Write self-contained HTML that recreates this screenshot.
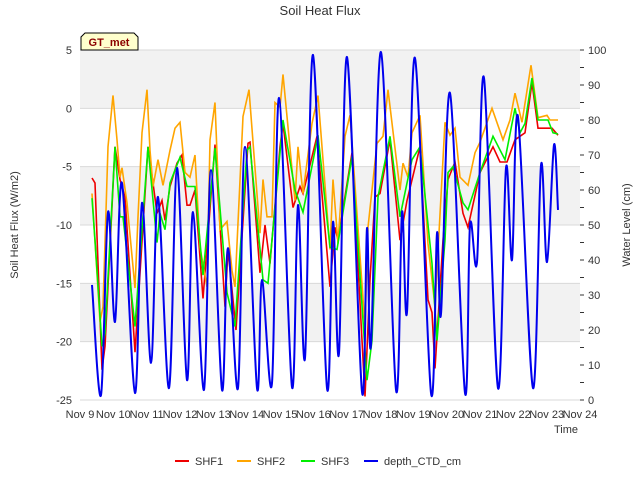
<!DOCTYPE html>
<html><head><meta charset="utf-8"><style>
body{margin:0;background:#fff;}
svg text{font-family:"Liberation Sans",sans-serif;}
</style></head><body>
<svg id="chart" width="640" height="480" viewBox="0 0 640 480" xmlns="http://www.w3.org/2000/svg">
<text x="320" y="15" text-anchor="middle" font-size="13" fill="#333">Soil Heat Flux</text>
<g id="bands"></g>
<g id="axes"></g>
<g id="series"></g>
<g>
<path d="M81,50 L81,37 L85,33 L134,33 L138,37 L138,50 Z" fill="#ffffcc" stroke="#000" stroke-width="1"/>
<text x="109" y="46" text-anchor="middle" font-size="11" font-weight="bold" fill="#8b0000">GT_met</text>
</g>
<text transform="translate(18,225) rotate(-90)" text-anchor="middle" font-size="11" fill="#333">Soil Heat Flux (W/m2)</text>
<text transform="translate(630,225) rotate(-90)" text-anchor="middle" font-size="11" fill="#333">Water Level (cm)</text>
<text x="578" y="433" text-anchor="end" font-size="11" fill="#333">Time</text>
<g id="legend"></g>
</svg>
<script>
const xTickLabels=["Nov 9","Nov 10","Nov 11","Nov 12","Nov 13","Nov 14","Nov 15","Nov 16","Nov 17","Nov 18","Nov 19","Nov 20","Nov 21","Nov 22","Nov 23","Nov 24"];
const yTicks=[5,0,-5,-10,-15,-20,-25];
const y2Ticks=[0,10,20,30,40,50,60,70,80,90,100];
const shf1T=[0.36,0.45,0.66,0.75,1.05,1.2,1.35,1.65,2.04,2.19,2.31,2.46,2.55,2.7,2.91,3.06,3.21,3.3,3.45,3.69,4.05,4.35,4.44,4.68,5.04,5.1,5.4,5.55,5.7,6,6.09,6.39,6.6,6.69,7.11,7.5,7.65,7.74,8.16,8.55,8.7,8.85,9,9.3,9.6,9.81,10.2,10.44,10.56,10.65,10.89,11.04,11.25,11.49,11.64,12,12.39,12.6,12.81,13.05,13.35,13.56,13.74,14.16,14.34];
const shf1V=[-5.97,-6.4,-22.4,-20.4,-3.3,-6.1,-7.6,-20.9,-3.3,-6.4,-9,-7.9,-9.6,-6.7,-4.7,-4,-8.3,-8.3,-7,-16.3,-3.1,-17,-12.1,-19,-3,-2.9,-14.1,-10,-13.3,-3.3,-1.3,-8.5,-6.7,-7.3,-2.4,-15.3,-10.2,-11.3,-3.8,-24.7,-14.7,-7.6,-7.3,-2.7,-11.3,-7.9,-3.3,-16.4,-17.5,-22.3,-11.3,-6.1,-4.6,-9,-10.2,-5.5,-3.3,-4.6,-4.6,-2.7,-2.1,2.2,-1.7,-1.7,-2.3];
const shf2T=[0.36,0.6,0.69,0.84,0.99,1.11,1.2,1.26,1.41,1.65,1.74,1.86,2.01,2.1,2.19,2.34,2.49,2.7,2.85,3,3.15,3.3,3.45,3.6,3.81,3.9,4.05,4.2,4.41,4.56,4.65,4.89,5.07,5.4,5.49,5.61,5.76,5.85,6,6.09,6.45,6.54,6.69,6.96,7.14,7.5,7.59,7.74,7.95,8.1,8.55,8.64,8.91,9.09,9.24,9.6,9.69,9.84,9.96,10.2,10.44,10.65,10.95,11.1,11.25,11.4,11.64,11.85,12,12.36,12.69,12.9,13.05,13.26,13.53,13.74,14.01,14.1,14.34];
const shf2V=[-7.3,-18.3,-17,-3.3,1.1,-2.7,-5.9,-5.1,-8.1,-15.4,-9.3,-2.1,1.6,-3.6,-6.7,-4.4,-6.6,-3.6,-1.7,-1.2,-5.5,-5.9,-4,-11.9,-15.3,-2.7,0.5,-10.4,-9.7,-13.9,-15.3,-0.7,1.6,-10.7,-6.1,-9.3,-9.3,0.5,0.1,2.9,-7.9,-3.3,-7.3,-1.3,1.1,-12.1,-6.1,-11.6,-2.4,-0.6,-18.7,-10.2,-3,-2.4,1.6,-7,-4.7,-5.9,-2.1,-0.6,-11.6,-17,-1.2,-2.3,-1.7,-5.9,-6.6,-3.8,-2.9,0,-2.7,-1,1.3,-1.2,3.7,-0.8,-0.6,-1,-1];
const shf3T=[0.36,0.45,0.66,0.75,1.05,1.2,1.29,1.65,2.04,2.31,2.4,2.55,2.7,3,3.21,3.45,3.69,4.05,4.41,4.65,5.01,5.1,5.49,5.64,6.09,6.45,6.69,7.14,7.5,7.71,8.16,8.61,8.76,8.94,9.3,9.6,9.81,9.96,10.2,10.56,10.71,10.95,11.04,11.19,11.49,11.64,12,12.39,12.75,13.05,13.2,13.35,13.56,13.74,14.04,14.19,14.34];
const shf3V=[-7.7,-11.3,-20.4,-19.3,-3.3,-9.3,-9.3,-18.7,-3.3,-11.5,-9,-10.4,-6.4,-4.2,-6.7,-6.7,-14.3,-3.4,-15.8,-18.7,-3.6,-3.3,-14.7,-15,-1,-7,-8.9,-2.3,-11.9,-12.1,-4.1,-23.3,-19.9,-7.6,-2.4,-9.3,-6.4,-4.4,-3.3,-13.3,-19.9,-11.3,-5.5,-5,-8.1,-8.7,-5.5,-2.4,-4.4,0,-2.1,-1.3,2.6,-1,-1,-2.1,-2.2];
const depthT=[0.36,0.63,0.84,1.05,1.26,1.65,1.86,2.13,2.34,2.67,2.91,3.21,3.39,3.72,3.93,4.26,4.44,4.74,4.95,5.31,5.46,5.76,5.97,6.36,6.54,6.75,6.99,7.41,7.59,7.77,8.01,8.46,8.61,8.73,9.03,9.48,9.66,9.81,10.05,10.53,10.71,10.83,11.1,11.55,11.7,11.91,12.12,12.54,12.78,12.96,13.14,13.59,13.83,14.01,14.22,14.34];
const depthV=[32.9,1.4,53.7,22.3,62,2,56.3,10.6,58,3.4,66.3,5.7,53.7,2.9,65.7,2.9,43.4,3.4,72.3,3.4,34.3,4.9,86.3,3.7,55.7,12,98.6,3.4,50.9,13.4,98,2.3,49.1,15.7,99.4,2.9,53.7,25.1,97.7,2,47.7,24.6,87.7,2,50,39.4,92,3.4,66.3,40,80.9,3.4,67.1,39.4,72.9,54.3];

const NS="http://www.w3.org/2000/svg";
const X0=80,X1=580,Y0=50,Y1=400;
const xs=d=>X0+d*(X1-X0)/15;
const yL=v=>Y0+(5-v)*(Y1-Y0)/30;
const yR=v=>Y1-v*(Y1-Y0)/100;
function mk(tag,attrs,parent){const e=document.createElementNS(NS,tag);for(const k in attrs)e.setAttribute(k,attrs[k]);parent.appendChild(e);return e;}
const bands=document.getElementById('bands');
for(let i=0;i<6;i++){
  const top=5-5*i;
  const r=mk('rect',{x:X0,y:yL(top),width:X1-X0,height:yL(top-5)-yL(top),fill:i%2===0?'#f2f2f2':'#ffffff'},bands);
  
  
}
const axes=document.getElementById('axes');
yTicks.forEach(v=>{
  const l=mk('line',{x1:X0,x2:X1,y1:yL(v),y2:yL(v),stroke:'#d9d9d9','stroke-width':1},axes);
  
  
  const t=mk('text',{x:X0-8,y:yL(v)+4,'text-anchor':'end','font-size':11,fill:'#333'},axes);
  t.textContent=v;
  
  
});
y2Ticks.forEach(v=>{
  const t=mk('text',{x:X1+8,y:yR(v)+4,'font-size':11,fill:'#333'},axes);
  t.textContent=v;
  
  
});
for(let v=0;v<=100;v+=5){
  const l=mk('line',{x1:X1,x2:X1+4,y1:yR(v),y2:yR(v),stroke:'#333','stroke-width':1},axes);
  
  
}
xTickLabels.forEach((s,i)=>{
  const t=mk('text',{x:xs(i),y:418,'text-anchor':'middle','font-size':11,fill:'#333'},axes);
  t.textContent=s;
  
  
});
const series=document.getElementById('series');
function linePath(T,V,yf){return T.map((t,i)=>(i?'L':'M')+xs(t).toFixed(1)+','+yf(V[i]).toFixed(1)).join('');}
function smoothPath(T,V,yf){
  const p=T.map((t,i)=>[xs(t),yf(V[i])]);
  let d='M'+p[0][0].toFixed(1)+','+p[0][1].toFixed(1);
  for(let i=0;i<p.length-1;i++){
    const p0=p[i-1]||p[i],p1=p[i],p2=p[i+1],p3=p[i+2]||p2;
    const c1=[p1[0]+(p2[0]-p0[0])/6,p1[1]+(p2[1]-p0[1])/6];
    const c2=[p2[0]-(p3[0]-p1[0])/6,p2[1]-(p3[1]-p1[1])/6];
    d+='C'+c1[0].toFixed(1)+','+c1[1].toFixed(1)+' '+c2[0].toFixed(1)+','+c2[1].toFixed(1)+' '+p2[0].toFixed(1)+','+p2[1].toFixed(1);
  }
  return d;
}
const s1=mk('path',{d:linePath(shf1T,shf1V,yL),fill:'none',stroke:'#ee0000','stroke-width':1.6},series);


const s2=mk('path',{d:linePath(shf2T,shf2V,yL),fill:'none',stroke:'#ffa500','stroke-width':1.6},series);


const s3=mk('path',{d:linePath(shf3T,shf3V,yL),fill:'none',stroke:'#00ee00','stroke-width':1.6},series);


const s4=mk('path',{d:smoothPath(depthT,depthV,yR),fill:'none',stroke:'#0000ee','stroke-width':2},series);


const legend=document.getElementById('legend');
const legendNames=["SHF1","SHF2","SHF3","depth_CTD_cm"];
const legendColors=['#ee0000','#ffa500','#00ee00','#0000ee'];
const legendX=[175,237,301,364];
legendNames.forEach((n,i)=>{
  const g=mk('g',{},legend);
  
  
  mk('line',{x1:legendX[i],x2:legendX[i]+14,y1:461,y2:461,stroke:legendColors[i],'stroke-width':2},g);
  const t=mk('text',{x:legendX[i]+20,y:465,'font-size':11,fill:'#333'},g);
  t.textContent=n;
});
</script>
</body></html>
